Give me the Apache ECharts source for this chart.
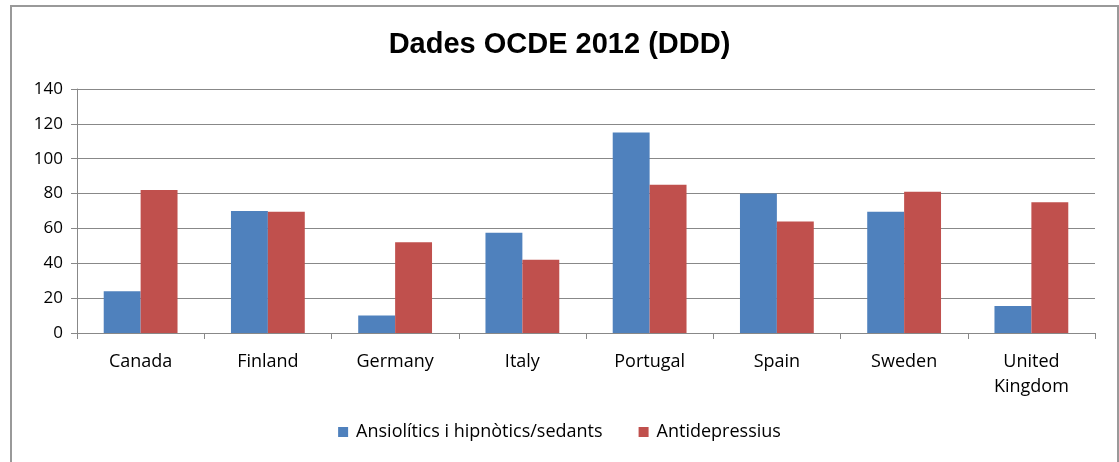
<!DOCTYPE html>
<html>
<head>
<meta charset="utf-8">
<script src="https://cdn.jsdelivr.net/npm/echarts@6/dist/echarts.min.js"></script>
<style>
  html, body { margin: 0; padding: 0; background: #fff; }
  #chart { width: 1119px; height: 462px; }
</style>
</head>
<body>
<div id="chart"></div>
<script>
// OECD 2012 consumption, defined daily doses
const countries = ['Canada', 'Finland', 'Germany', 'Italy', 'Portugal', 'Spain', 'Sweden', 'United\nKingdom'];
const seriesNames = ['Ansiolítics i hipnòtics/sedants', 'Antidepressius'];
const anxiolytics = [24, 70, 10, 57.5, 115, 80, 69.5, 15.5];
const antidepressants = [82, 69.5, 52, 42, 85, 64, 81, 75];

const chart = echarts.init(document.getElementById('chart'), null, { renderer: 'canvas' });
const baseFont = '"Open Sans", Lato, sans-serif';

chart.setOption({
  animation: false,
  backgroundColor: '#fff',
  title: {
    text: 'Dades OCDE 2012 (DDD)',
    left: 'center',
    top: 25,
    textStyle: { fontFamily: '"Liberation Sans", Arial, sans-serif', fontSize: 29, fontWeight: 'bold', color: '#000' }
  },
  graphic: [{
    type: 'rect',
    shape: { x: 11, y: 6, width: 1107, height: 470 },
    style: { fill: 'none', stroke: '#999', lineWidth: 2 },
    silent: true,
    z: -1
  }],
  legend: {
    bottom: 16,
    left: 'center',
    itemWidth: 10,
    itemHeight: 10,
    itemGap: 36,
    icon: 'rect',
    textStyle: { fontFamily: baseFont, fontSize: 18, color: '#000', padding: [0, 0, 0, 3] },
    data: seriesNames
  },
  grid: { left: 77, right: 24, top: 89, bottom: 129 },
  xAxis: {
    type: 'category',
    data: countries,
    axisLine: { lineStyle: { color: '#888', width: 1 } },
    axisTick: { show: true, length: 6, lineStyle: { color: '#888' } },
    axisLabel: { fontFamily: baseFont, fontSize: 18, color: '#000', margin: 16, lineHeight: 25, interval: 0 }
  },
  yAxis: {
    type: 'value',
    min: 0,
    max: 140,
    interval: 20,
    axisLine: { show: true, lineStyle: { color: '#888' } },
    axisTick: { show: true, length: 6, lineStyle: { color: '#888' } },
    axisLabel: { fontFamily: baseFont, fontSize: 17, color: '#000', margin: 14 },
    splitLine: { lineStyle: { color: '#888', width: 1 } }
  },
  series: [
    {
      name: seriesNames[0],
      type: 'bar',
      data: anxiolytics,
      barGap: '0%',
      barCategoryGap: '42%',
      itemStyle: { color: '#4F81BD' }
    },
    {
      name: seriesNames[1],
      type: 'bar',
      data: antidepressants,
      barGap: '0%',
      barCategoryGap: '42%',
      itemStyle: { color: '#C0504D' }
    }
  ]
});
</script>
</body>
</html>
